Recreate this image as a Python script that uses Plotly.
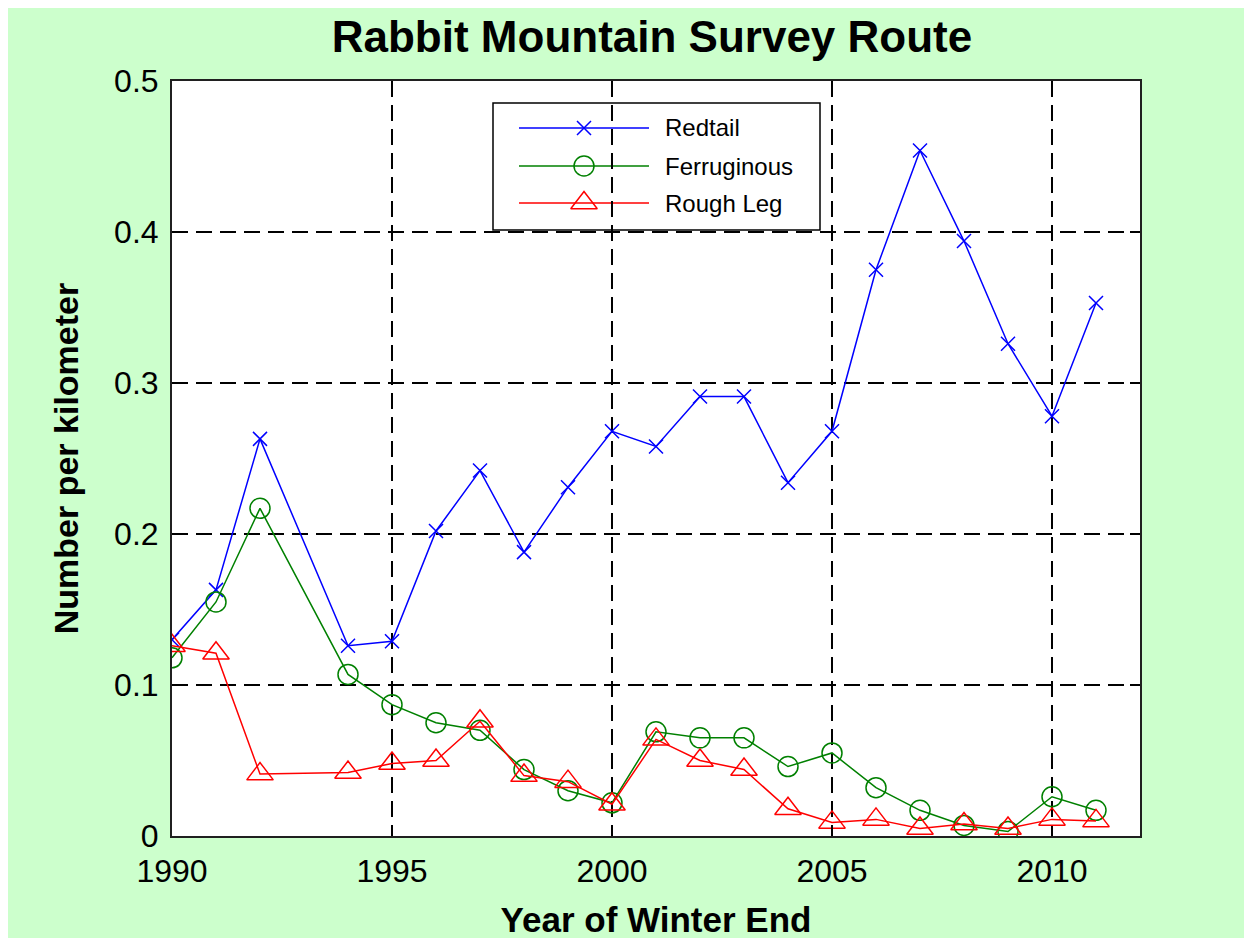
import plotly.graph_objects as go

years = [1990, 1991, 1992, 1994, 1995, 1996, 1997, 1998, 1999, 2000, 2001,
         2002, 2003, 2004, 2005, 2006, 2007, 2008, 2009, 2010, 2011]
redtail = [0.130, 0.163, 0.263, 0.126, 0.129, 0.202, 0.242, 0.188, 0.231, 0.268, 0.258,
           0.291, 0.291, 0.234, 0.268, 0.375, 0.454, 0.394, 0.326, 0.278, 0.353]
ferruginous = [0.118, 0.155, 0.217, 0.107, 0.087, 0.075, 0.070, 0.044, 0.030, 0.022, 0.069,
               0.065, 0.065, 0.046, 0.055, 0.032, 0.017, 0.007, 0.003, 0.026, 0.017]
roughleg = [0.126, 0.121, 0.041, 0.042, 0.048, 0.050, 0.076, 0.040, 0.036, 0.021, 0.064,
            0.050, 0.044, 0.018, 0.009, 0.011, 0.005, 0.008, 0.005, 0.011, 0.010]

series_names = ["Redtail", "Ferruginous", "Rough Leg"]
series_colors = ["#0000FF", "#008000", "#FF0000"]
series_symbols = ["x-thin-open", "circle-open", "triangle-up-open"]
series_sizes = [14, 20, 23]

xtick_vals = [1990, 1995, 2000, 2005, 2010]
ytick_vals = [0, 0.1, 0.2, 0.3, 0.4, 0.5]
ytick_text = ["0", "0.1", "0.2", "0.3", "0.4", "0.5"]

W, H = 1252, 938
OFF = 8  # page margin offset of the figure in the screenshot
# plot area in screenshot pixels
L, R, T, B = 172 - OFF, 1140 - OFF, 81 - OFF, 836 - OFF
PW, PH = R - L, B - T


def px(xs):
    return (xs - OFF - L) / PW


def py(ys):
    return (B - (ys - OFF)) / PH


fig = go.Figure()
for vals, name, col, sym, sz in zip([redtail, ferruginous, roughleg], series_names,
                                    series_colors, series_symbols, series_sizes):
    fig.add_trace(go.Scatter(
        x=years, y=vals, mode="lines+markers", name=name,
        line=dict(color=col, width=1.5),
        marker=dict(symbol=sym, size=sz, color=col, line=dict(color=col, width=1.5)),
        showlegend=False,
    ))

# custom legend (MATLAB style)
leg_rows = [128, 166, 203]
shapes = [
    dict(type="rect", xref="paper", yref="paper", x0=px(493), x1=px(820), y0=py(230), y1=py(103),
         fillcolor="white", line=dict(color="black", width=1.5), layer="between"),
]
for yr, col in zip(leg_rows, series_colors):
    shapes.append(dict(type="line", xref="paper", yref="paper", x0=px(519), x1=px(649),
                       y0=py(yr), y1=py(yr), line=dict(color=col, width=1.5), layer="between"))
for yr, name, col, sym, sz in zip(leg_rows, series_names, series_colors, series_symbols, series_sizes):
    fig.add_trace(go.Scatter(
        x=[px(584)], y=[py(yr)], xaxis="x2", yaxis="y2", mode="markers",
        marker=dict(symbol=sym, size=sz, color=col, line=dict(color=col, width=1.5)),
        showlegend=False, hoverinfo="skip",
    ))
annotations = []
for yr, name in zip(leg_rows, series_names):
    annotations.append(dict(x=px(663), y=py(yr), xref="paper", yref="paper", text=name,
                            showarrow=False, xanchor="left", yanchor="middle",
                            font=dict(family="Liberation Sans", size=24, color="black")))

tickfont = dict(family="Liberation Sans", size=32, color="black")
gridstyle = dict(showgrid=True, gridcolor="black", griddash="16px,8px", gridwidth=2,
                 showline=True, linecolor="#202020", linewidth=2, mirror="ticks",
                 ticks="inside", ticklen=10, tickwidth=2, tickcolor="black",
                 tickfont=tickfont, zeroline=False)
fig.update_layout(
    width=W, height=H,
    margin=dict(l=L, r=W - R, t=T, b=H - B, pad=0),
    paper_bgcolor="#CCFFCC", plot_bgcolor="white",
    title=dict(text="<b>Rabbit Mountain Survey Route</b>", x=(652 - OFF) / W, xanchor="center",
               y=1 - (37 - OFF) / H, yanchor="middle",
               font=dict(family="Liberation Sans", size=44, color="black")),
    xaxis=dict(range=[1990, 2012], tickvals=xtick_vals, ticktext=[str(v) for v in xtick_vals],
               ticklabelstandoff=6,
               title=dict(text="<b>Year of Winter End</b>", standoff=19,
                          font=dict(family="Liberation Sans", size=35, color="black")),
               **gridstyle),
    yaxis=dict(range=[0, 0.5], tickvals=ytick_vals, ticktext=ytick_text,
               ticklabelstandoff=5,
               title=dict(text="<b>Number per kilometer</b>", standoff=25,
                          font=dict(family="Liberation Sans", size=34, color="black")),
               **gridstyle),
    xaxis2=dict(domain=[0, 1], range=[0, 1], overlaying="x", visible=False),
    yaxis2=dict(domain=[0, 1], range=[0, 1], overlaying="y", visible=False),
    shapes=shapes, annotations=annotations,
)

fig.write_html("out.html")
